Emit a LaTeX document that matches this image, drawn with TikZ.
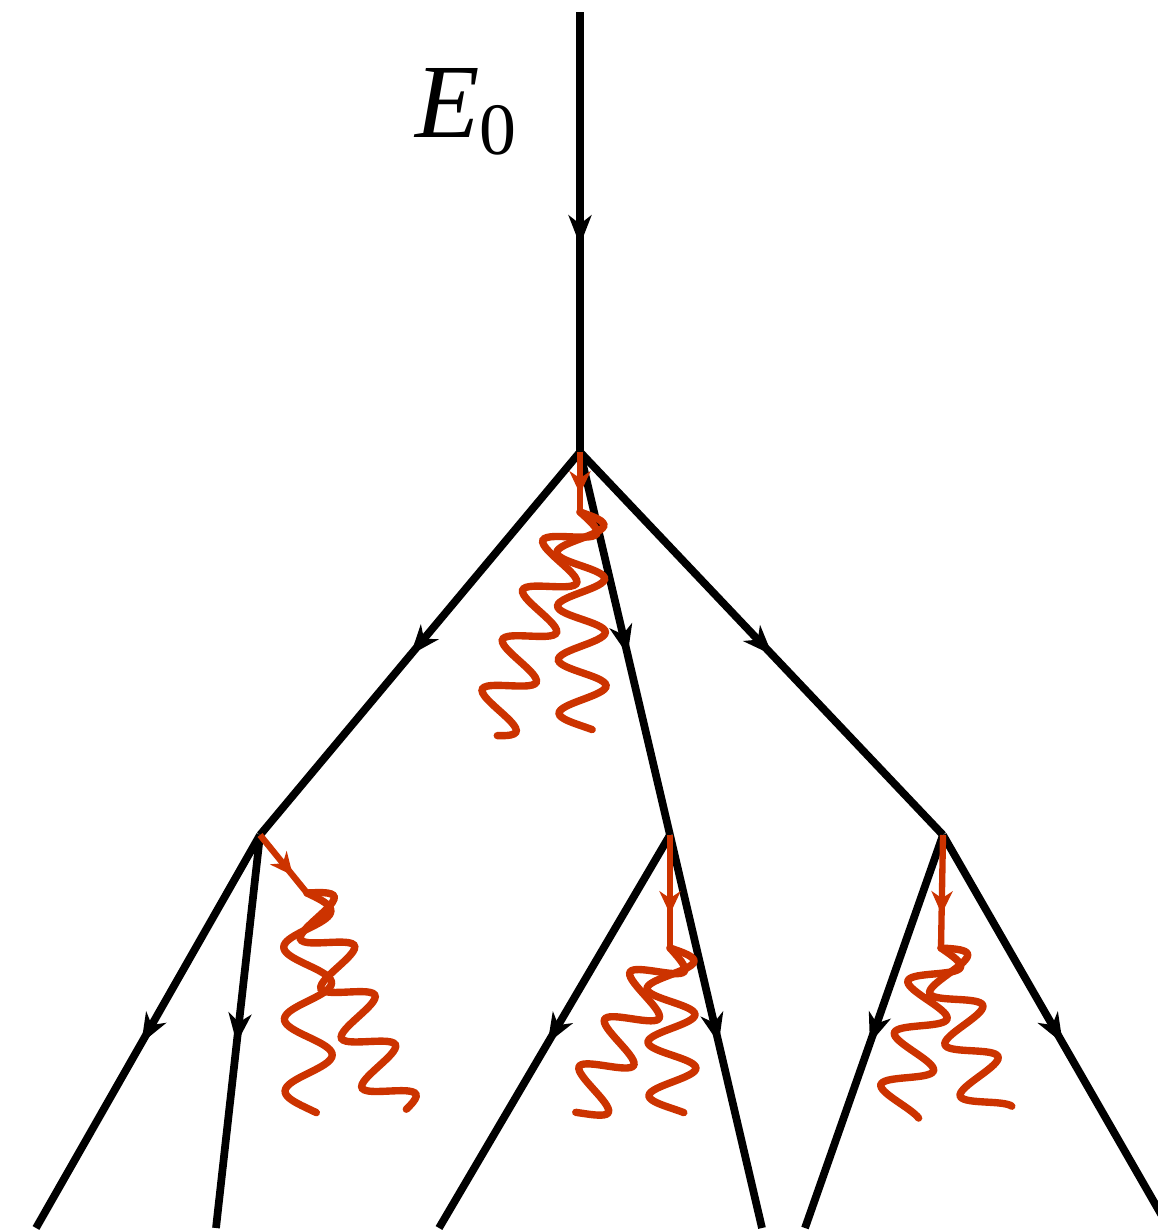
\documentclass[tikz,border=0pt]{standalone}
\usepackage{fontspec}
\setmainfont{Liberation Serif}
\usetikzlibrary{arrows.meta,calc,decorations.markings}
\definecolor{gluonred}{HTML}{CC3300}
\tikzset{
  quark/.style={draw=black,line width=4.4pt,postaction={decorate},
    decoration={markings,mark=at position .53 with {\arrow{Stealth[length=17pt,width=13pt,inset=5pt]}}}},
  gluonstem/.style={draw=gluonred,line width=3.6pt,postaction={decorate},
    decoration={markings,mark=at position .7 with {\arrow{Stealth[length=13pt,width=12pt,inset=4pt]}}}},
  gluon/.style={draw=gluonred,line width=4.2pt,line cap=round}}
% wavy gluon line from #2 to #3, wavelength #1 (pt)
\newcommand\gluonwave[3][30.5]{%
  \draw[gluon] let \p1=($(#3)-(#2)$),\n1={veclen(\x1,\y1)},\n2={atan2(\y1,\x1)} in
    [shift={(#2)},rotate=\n2] plot[domain=0:1,samples=120,smooth,variable=\t]
    ({\t*\n1*1pt},{13.5*sin(\t*\n1/#1*360)*1pt});}

\begin{document}
\begin{tikzpicture}[x=0.02cm,y=-0.02cm]
\useasboundingbox (0,0) rectangle (1158,1231);
% vertices of the cascade
\coordinate (in) at (580,12);
\coordinate (v0) at (580,452);
\coordinate (v1) at (260,835);
\coordinate (v2) at (670,835);
\coordinate (v3) at (943,835);
% outgoing ends
\coordinate (e1) at (36,1228);
\coordinate (e2) at (216,1228);
\coordinate (e3) at (439,1228);
\coordinate (e4) at (762,1228);
\coordinate (e5) at (805,1228);
\coordinate (e6) at (1169,1228);
\node (lbl) at (466,112) {\fontsize{60}{62}\selectfont\textit{E}\raisebox{-10pt}{\fontsize{42}{44}\selectfont 0}};
\draw[quark] (in) -- (v0);
\draw[quark] (v0) -- (v1);
\draw[quark] (v0) -- (v2);
\draw[quark] (v0) -- (v3);
\draw[quark] (v1) -- (e1);
\draw[quark] (v1) -- (e2);
\draw[quark] (v2) -- (e3);
\draw[quark] (v2) -- (e4);
\draw[quark] (v3) -- (e5);
\draw[quark] (v3) -- (e6);
% radiated gluons
\coordinate (g0) at (580,512);
\coordinate (g1) at (307,893);
\coordinate (g2) at (670,948);
\coordinate (g3) at (941,948);
\coordinate (w0a) at (490,733);
\coordinate (w0b) at (583,730);
\coordinate (w1a) at (309,1113);
\coordinate (w1b) at (398,1113);
\coordinate (w2a) at (580,1115);
\coordinate (w2b) at (673,1113);
\coordinate (w3a) at (898,1113);
\coordinate (w3b) at (990,1113);
\draw[gluonstem] (v0) -- (g0);
\draw[gluonstem] (v1) -- (g1);
\draw[gluonstem] (v2) -- (g2);
\draw[gluonstem] (v3) -- (g3);
\gluonwave{g0}{w0a}
\gluonwave{g0}{w0b}
\gluonwave[41]{g1}{w1a}
\gluonwave{g1}{w1b}
\foreach \g/\a/\b in {g2/w2a/w2b,g3/w3a/w3b}{
  \gluonwave{\g}{\a}
  \gluonwave{\g}{\b}
}
\end{tikzpicture}
\end{document}
